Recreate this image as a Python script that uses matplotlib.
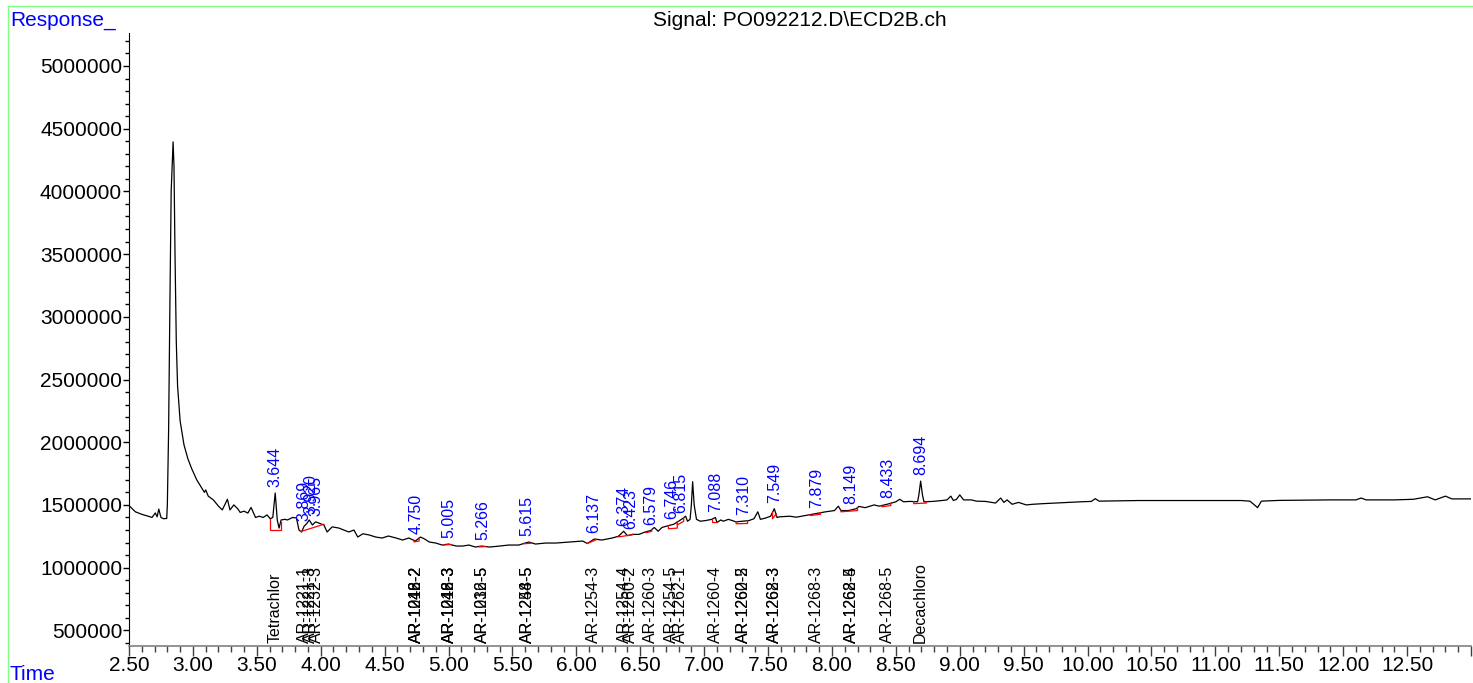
import numpy as np
import matplotlib
matplotlib.use("Agg")
import matplotlib.pyplot as plt
from matplotlib.ticker import MultipleLocator, FuncFormatter
from matplotlib.lines import Line2D

plt.rcParams['font.family'] = ['Liberation Sans', 'DejaVu Sans']

# chromatogram trace (time in min, response)
time = [2.50, 2.55, 2.60, 2.65, 2.68, 2.706, 2.72, 2.733, 2.75, 2.77, 2.795,
        2.80, 2.81, 2.82, 2.83, 2.845, 2.852, 2.86, 2.87, 2.88, 2.90, 2.93,
        2.96, 2.99, 3.03, 3.06, 3.09, 3.10, 3.12, 3.16, 3.20, 3.23, 3.27,
        3.29, 3.32, 3.35, 3.37, 3.40, 3.43, 3.455, 3.49, 3.52, 3.55, 3.58,
        3.605, 3.625, 3.644, 3.66, 3.674, 3.69, 3.72, 3.74, 3.78, 3.81, 3.83,
        3.85, 3.87, 3.89, 3.91, 3.935, 3.96, 4.00, 4.025, 4.05, 4.09, 4.14,
        4.18, 4.22, 4.26, 4.29, 4.33, 4.38, 4.43, 4.48, 4.53, 4.59, 4.64,
        4.69, 4.74, 4.78, 4.81, 4.85, 4.90, 4.95, 5.00, 5.06, 5.11, 5.16,
        5.21, 5.26, 5.32, 5.40, 5.47, 5.55, 5.60, 5.63, 5.68, 5.76, 5.84,
        5.94, 6.05, 6.086, 6.14, 6.20, 6.28, 6.33, 6.37, 6.40, 6.44, 6.49,
        6.54, 6.58, 6.61, 6.64, 6.67, 6.72, 6.76, 6.80, 6.83, 6.855, 6.87,
        6.89, 6.90, 6.91, 6.922, 6.94, 6.97, 7.01, 7.06, 7.088, 7.10, 7.13,
        7.15, 7.19, 7.25, 7.30, 7.35, 7.39, 7.42, 7.44, 7.48, 7.52, 7.549,
        7.57, 7.59, 7.67, 7.72, 7.79, 7.87, 7.95, 8.02, 8.05, 8.07, 8.13,
        8.19, 8.21, 8.26, 8.33, 8.37, 8.45, 8.50, 8.53, 8.56, 8.61, 8.67,
        8.68, 8.694, 8.708, 8.72, 8.79, 8.86, 8.90, 8.93, 8.95, 8.975, 9.00,
        9.03, 9.09, 9.13, 9.20, 9.28, 9.32, 9.345, 9.37, 9.41, 9.46, 9.52,
        9.57, 9.65, 9.75, 9.85, 9.95, 10.03, 10.06, 10.09, 10.2, 10.4, 10.6,
        10.8, 11.0, 11.2, 11.27, 11.30, 11.33, 11.36, 11.5, 11.7, 11.9, 12.1,
        12.14, 12.18, 12.4, 12.55, 12.66, 12.72, 12.80, 12.85, 13.0]
response = [1495000, 1445000, 1425000, 1410000, 1400000, 1436000, 1405000, 1467000, 1400000, 1390000, 1392000,
            1500000, 2100000, 3100000, 4000000, 4395000, 4200000, 3500000, 2800000, 2450000, 2170000, 1980000,
            1870000, 1790000, 1700000, 1650000, 1600000, 1620000, 1570000, 1540000, 1490000, 1460000, 1545000,
            1460000, 1500000, 1470000, 1440000, 1450000, 1435000, 1480000, 1400000, 1410000, 1400000, 1420000,
            1390000, 1400000, 1595000, 1380000, 1315000, 1380000, 1385000, 1380000, 1400000, 1396000, 1300000,
            1284000, 1330000, 1350000, 1380000, 1340000, 1365000, 1350000, 1340000, 1284000, 1325000, 1316000,
            1300000, 1284000, 1300000, 1244000, 1270000, 1260000, 1244000, 1236000, 1252000, 1236000, 1220000,
            1236000, 1212000, 1244000, 1230000, 1204000, 1196000, 1180000, 1188000, 1172000, 1172000, 1180000,
            1164000, 1172000, 1164000, 1172000, 1180000, 1180000, 1196000, 1204000, 1188000, 1196000, 1196000,
            1204000, 1212000, 1192000, 1228000, 1220000, 1236000, 1250000, 1290000, 1255000, 1265000, 1265000,
            1285000, 1295000, 1320000, 1290000, 1320000, 1335000, 1345000, 1370000, 1390000, 1410000, 1370000,
            1385000, 1500000, 1685000, 1500000, 1385000, 1370000, 1375000, 1385000, 1400000, 1360000, 1380000,
            1370000, 1385000, 1365000, 1370000, 1375000, 1390000, 1445000, 1385000, 1395000, 1410000, 1470000,
            1400000, 1405000, 1410000, 1402000, 1415000, 1430000, 1445000, 1455000, 1490000, 1455000, 1455000,
            1470000, 1488000, 1478000, 1500000, 1490000, 1510000, 1525000, 1545000, 1525000, 1528000, 1525000,
            1580000, 1690000, 1580000, 1525000, 1528000, 1535000, 1540000, 1570000, 1535000, 1545000, 1580000,
            1540000, 1540000, 1530000, 1528000, 1515000, 1555000, 1520000, 1540000, 1505000, 1520000, 1500000,
            1505000, 1510000, 1515000, 1520000, 1525000, 1528000, 1550000, 1530000, 1532000, 1535000, 1535000,
            1535000, 1535000, 1535000, 1530000, 1505000, 1478000, 1530000, 1536000, 1538000, 1540000, 1540000,
            1555000, 1540000, 1540000, 1545000, 1565000, 1540000, 1570000, 1548000, 1548000]

# integration baselines (start time, start resp, end time, end resp)
base_t0 = [3.607, 3.843, 4.73, 4.96, 5.24, 5.59, 6.085, 6.33, 6.545, 6.72, 6.79, 7.06, 7.25, 7.535, 7.83, 8.07, 8.39, 8.64]
base_v0 = [1300000, 1287000, 1205000, 1180000, 1165000, 1190000, 1192000, 1245000, 1278000, 1310000, 1340000, 1360000, 1350000, 1390000, 1415000, 1445000, 1485000, 1510000]
base_t1 = [3.686, 4.025, 4.77, 5.02, 5.29, 5.65, 6.155, 6.44, 6.59, 6.79, 6.84, 7.10, 7.34, 7.565, 7.91, 8.20, 8.46, 8.74]
base_v1 = [1300000, 1346000, 1212000, 1185000, 1168000, 1195000, 1222000, 1262000, 1290000, 1315000, 1370000, 1360000, 1352000, 1430000, 1425000, 1455000, 1495000, 1515000]

# retention times of integrated peaks
peak_rt = [3.644, 3.869, 3.920, 3.965, 4.750, 5.005, 5.266, 5.615, 6.137, 6.374, 6.423,
           6.579, 6.746, 6.815, 7.088, 7.310, 7.549, 7.879, 8.149, 8.433, 8.694]

# compound names at bottom (time, name)
cmp_rt = [3.644, 3.869, 3.920, 3.965, 4.750, 4.750, 4.750, 5.005, 5.005, 5.005, 5.266, 5.266,
          5.615, 5.615, 6.137, 6.374, 6.423, 6.579, 6.746, 6.815, 7.088, 7.310, 7.310,
          7.549, 7.549, 7.879, 8.149, 8.149, 8.433, 8.694]
cmp_name = ["Tetrachlor", "AR-1221-1", "AR-1221-3", "AR-1232-3", "AR-1016-2", "AR-1242-2", "AR-1248-2",
            "AR-1016-3", "AR-1242-3", "AR-1248-3", "AR-1016-5", "AR-1232-5",
            "AR-1248-5", "AR-1254-5", "AR-1254-3", "AR-1254-4", "AR-1260-2", "AR-1260-3",
            "AR-1254-5", "AR-1262-1", "AR-1260-4", "AR-1260-5", "AR-1262-2",
            "AR-1262-3", "AR-1268-3", "AR-1268-3", "AR-1262-5", "AR-1268-4", "AR-1268-5", "Decachloro"]

t = np.array(time)
v = np.array(response)

fig = plt.figure(figsize=(14.73, 6.83), dpi=100)
ax = fig.add_axes([129/1473, 1 - 646/683, (1471 - 129)/1473, (646 - 33)/683])

ax.plot(t, v, color="black", lw=0.9)

for a, va_, b, vb in zip(base_t0, base_v0, base_t1, base_v1):
    ya = np.interp(a, t, v)
    yb = np.interp(b, t, v)
    ax.plot([a, a, b, b], [ya, va_, vb, yb], color="red", lw=0.9)

for rt in peak_rt:
    m = (t >= rt - 0.02) & (t <= rt + 0.02)
    top = max(v[m].max() if m.any() else 0, np.interp(rt, t, v))
    ax.text(rt, top + 45000, f"{rt:.3f}", rotation=90, ha="center", va="bottom",
            color="blue", fontsize=11.5)

for rt, nm in zip(cmp_rt, cmp_name):
    ax.text(rt, 400000, nm, rotation=90, ha="center", va="bottom", color="black", fontsize=11.5)

ax.set_xlim(2.5, 13.0)
ax.set_ylim(375000, 5263000)
ax.xaxis.set_major_locator(MultipleLocator(0.5))
ax.xaxis.set_minor_locator(MultipleLocator(0.1))
ax.yaxis.set_major_locator(MultipleLocator(500000))
ax.yaxis.set_minor_locator(MultipleLocator(100000))
ax.xaxis.set_major_formatter(FuncFormatter(lambda x, p: f"{x:.2f}" if x <= 12.6 else ""))
ax.yaxis.set_major_formatter(FuncFormatter(lambda y, p: f"{int(round(y))}" if 400000 < y < 5100000 else ""))
ax.tick_params(axis="x", which="major", direction="out", length=7, width=1, color="#404040",
               labelsize=15, pad=0)
ax.tick_params(axis="x", which="minor", direction="out", length=4.5, width=1, color="#404040")
ax.tick_params(axis="y", which="major", direction="out", length=4, width=1, labelsize=15, pad=1)
ax.tick_params(axis="y", which="minor", direction="out", length=3, width=1)
for s in ["top", "right"]:
    ax.spines[s].set_visible(False)
ax.spines["bottom"].set_color("#808080")
ax.spines["bottom"].set_linewidth(1.2)
ax.spines["left"].set_color("black")

# frame, header texts
green = "#80ff80"
fig.add_artist(Line2D([8/1473, 1], [1 - 6/683, 1 - 6/683], color=green, lw=1))
fig.add_artist(Line2D([8/1473, 8/1473], [0, 1 - 6/683], color=green, lw=1))
fig.text(10/1473, 1 - 4/683, "Time", color="blue", fontsize=15, ha="left", va="bottom")
fig.text(10/1473, 1 - 20/683, "Response_", color="blue", fontsize=15, ha="left", va="center")
fig.text(10/1473, 1 - 674/683, "Time", color="blue", fontsize=15, ha="left", va="center")
fig.text(800/1473, 1 - 20/683, "Signal: PO092212.D\\ECD2B.ch", color="black", fontsize=15,
         ha="center", va="center")

fig.savefig("out.png", dpi=100)
